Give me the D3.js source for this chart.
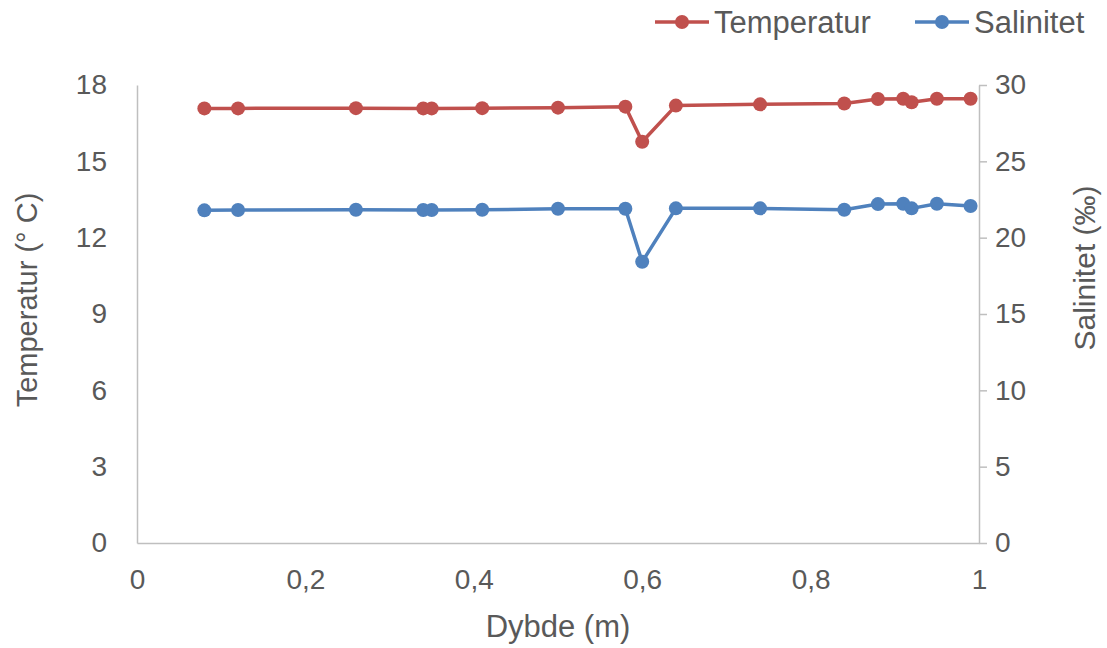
<!DOCTYPE html>
<html>
<head>
<meta charset="utf-8">
<script src="https://cdn.jsdelivr.net/npm/d3@7"></script>
<style>
  body { margin: 0; background: #fff; }
  text { font-family: "Liberation Sans", Arial, sans-serif; fill: #595959; }
</style>
</head>
<body>
<div class="chart"></div>
<script>
// depth (m)
var depth = [0.08, 0.12, 0.26, 0.34, 0.35, 0.41, 0.50, 0.58, 0.60, 0.64, 0.74, 0.84, 0.88, 0.91, 0.92, 0.95, 0.99]
var temperature = [17.08, 17.08, 17.09, 17.08, 17.08, 17.09, 17.11, 17.15, 15.77, 17.19, 17.24, 17.27, 17.45, 17.46, 17.32, 17.46, 17.46]
var salinity = [21.79, 21.81, 21.83, 21.81, 21.81, 21.83, 21.89, 21.89, 18.42, 21.92, 21.92, 21.83, 22.2, 22.22, 21.92, 22.22, 22.07]

var xTicks = [0, 0.2, 0.4, 0.6, 0.8, 1]
var yLeftTicks = [0, 3, 6, 9, 12, 15, 18]
var yRightTicks = [0, 5, 10, 15, 20, 25, 30]

var seriesNames = ["Temperatur", "Salinitet"]
var seriesColors = ["#C0504D", "#4F81BD"]

var W = 1107, H = 648
var margin = { top: 85, right: 128, bottom: 105, left: 137 },
	width = W - margin.left - margin.right,
	height = H - margin.top - margin.bottom;

var svg = d3.select('.chart').append("svg")
	.attr("width", W)
	.attr("height", H);

var g = svg.append("g")
	.attr("transform", "translate(" + margin.left + "," + margin.top + ")");

var x = d3.scaleLinear().domain([0, 1]).range([0, width])
var yL = d3.scaleLinear().domain([0, 18]).range([height, 0])
var yR = d3.scaleLinear().domain([0, 30]).range([height, 0])

var fmt = function (d) { return String(d).replace(".", ",") }
var axisColor = "#BFBFBF"

// bottom axis
var xAxis = g.append("g")
	.attr("transform", "translate(0," + height + ")")
	.call(d3.axisBottom(x).tickValues(xTicks).tickFormat(fmt).tickSize(0).tickPadding(26))
xAxis.select(".domain").attr("stroke", axisColor).attr("stroke-width", 1.5)

// left axis
var leftAxis = g.append("g")
	.call(d3.axisLeft(yL).tickValues(yLeftTicks).tickSize(0).tickPadding(30))
leftAxis.select(".domain").attr("stroke", axisColor).attr("stroke-width", 1.5)

// right axis, ticks outward
var rightAxis = g.append("g")
	.attr("transform", "translate(" + width + ",0)")
	.call(d3.axisRight(yR).tickValues(yRightTicks).tickSize(8).tickSizeOuter(0).tickPadding(8))
rightAxis.select(".domain").attr("stroke", axisColor).attr("stroke-width", 1.5)
rightAxis.selectAll(".tick line").attr("stroke", axisColor).attr("stroke-width", 1.5)

g.selectAll(".tick text")
	.style("font-size", "28px")
	.attr("fill", "#595959")

// axis titles
svg.append("text")
	.attr("x", margin.left + width / 2)
	.attr("y", 637)
	.attr("text-anchor", "middle")
	.style("font-size", "31px")
	.text("Dybde (m)")

svg.append("text")
	.attr("transform", "translate(37,300) rotate(-90)")
	.attr("text-anchor", "middle")
	.style("font-size", "29px")
	.text("Temperatur (° C)")

svg.append("text")
	.attr("transform", "translate(1095,268) rotate(-90)")
	.attr("text-anchor", "middle")
	.style("font-size", "30px")
	.text("Salinitet (‰)")

// series
var series = [
	{ name: seriesNames[0], values: temperature, y: yL, color: seriesColors[0] },
	{ name: seriesNames[1], values: salinity, y: yR, color: seriesColors[1] }
]

series.forEach(function (s) {
	var pts = depth.map(function (d, i) { return [d, s.values[i]] })
	var line = d3.line()
		.x(function (d) { return x(d[0]) })
		.y(function (d) { return s.y(d[1]) })
	g.append("path")
		.datum(pts)
		.attr("fill", "none")
		.attr("stroke", s.color)
		.attr("stroke-width", 3.5)
		.attr("stroke-linejoin", "round")
		.attr("d", line)
	g.selectAll(null)
		.data(pts)
		.enter().append("circle")
		.attr("cx", function (d) { return x(d[0]) })
		.attr("cy", function (d) { return s.y(d[1]) })
		.attr("r", 7)
		.attr("fill", s.color)
})

// legend
var legendX = [655, 915]
series.forEach(function (s, i) {
	var lg = svg.append("g").attr("transform", "translate(" + legendX[i] + ",22)")
	lg.append("line").attr("x1", 0).attr("x2", 54).attr("y1", 0).attr("y2", 0)
		.attr("stroke", s.color).attr("stroke-width", 3.5)
	lg.append("circle").attr("cx", 27).attr("cy", 0).attr("r", 7).attr("fill", s.color)
	lg.append("text").attr("x", 59).attr("y", 11)
		.style("font-size", "31px")
		.text(s.name)
})
</script>
</body>
</html>
